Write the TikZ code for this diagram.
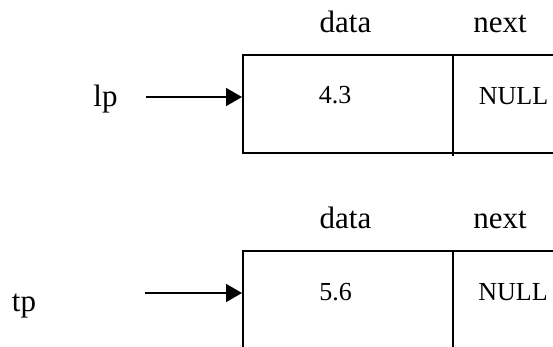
\documentclass[tikz,border=0pt]{standalone}
\usepackage{fontspec}
\setmainfont{Liberation Serif}
\usetikzlibrary{arrows.meta}
\begin{document}
\begin{tikzpicture}[x=1pt,y=-1pt,
  cell/.style={draw,line width=1.8pt,rectangle,inner sep=0pt,anchor=north west},
  lbl/.style={font=\fontsize{31}{31}\selectfont,anchor=base,inner sep=0pt},
  val/.style={font=\fontsize{26}{26}\selectfont,anchor=base,inner sep=0pt},
  divider/.style={line width=1.8pt},
  ptr/.style={line width=1.7pt,-{Triangle[length=16pt,width=18pt]}}]
\useasboundingbox (0,0) rectangle (553,347);
\clip (0,0) rectangle (553,347);
% first record
\node[cell,minimum width=318pt,minimum height=98pt] (b1) at (242,54) {};
\draw[divider] (453,54) coordinate (d1t) -- (453,156) coordinate (d1b);
\node[lbl] (data1) at (345.5,33) {data};
\node[lbl] (next1) at (500,33) {next};
\node[val] (v1) at (335,103.5) {4.3};
\node[val] (n1) at (513.5,105) {NULL};
\node[lbl] (lp) at (105.5,107) {lp};
\coordinate (s1) at (146,97);
\draw[ptr] (s1) -- (s1 -| b1.west);
% second record
\node[cell,minimum width=318pt,minimum height=120pt] (b2) at (242,250) {};
\draw[divider] (453,250) coordinate (d2t) -- (453,370) coordinate (d2b);
\node[lbl] (data2) at (345.5,228) {data};
\node[lbl] (next2) at (500,228) {next};
\node[val] (v2) at (335.5,300) {5.6};
\node[val] (n2) at (513,300.5) {NULL};
\node[lbl] (tp) at (24,311) {tp};
\coordinate (s2) at (145,293);
\draw[ptr] (s2) -- (s2 -| b2.west);
\end{tikzpicture}
\end{document}
